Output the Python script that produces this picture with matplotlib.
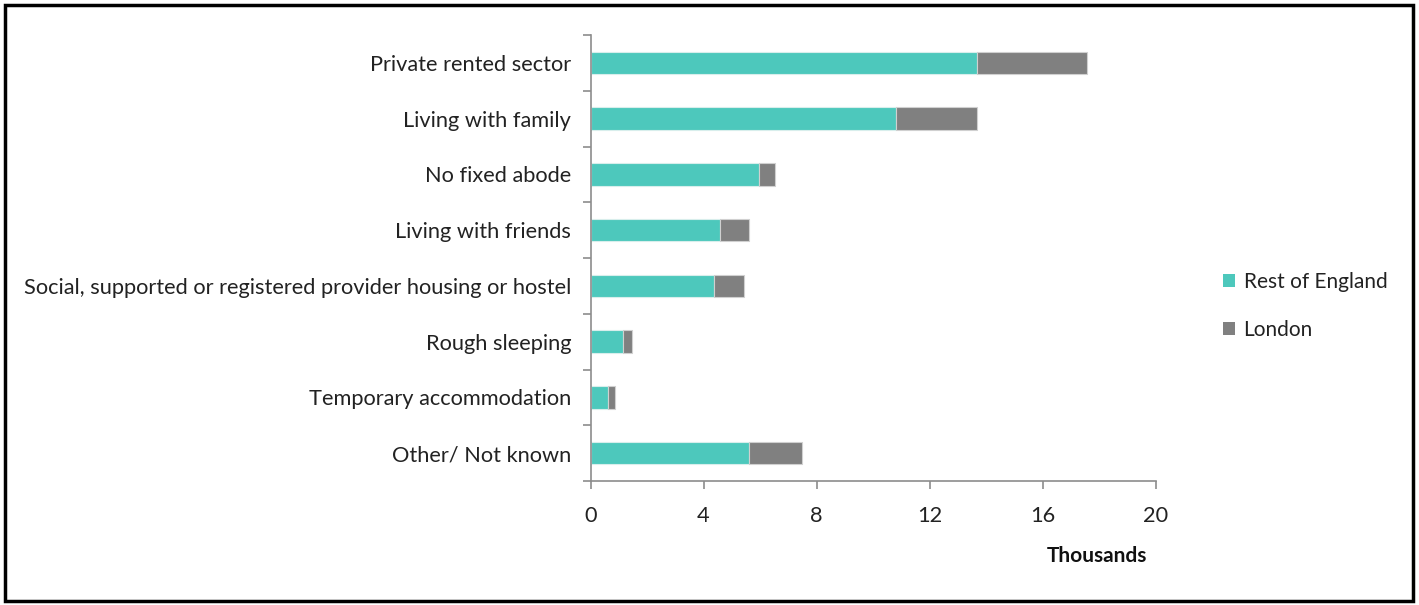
import matplotlib
matplotlib.use("Agg")
import matplotlib.pyplot as plt
from matplotlib.patches import Rectangle, Patch

categories = [
    "Private rented sector",
    "Living with family",
    "No fixed abode",
    "Living with friends",
    "Social, supported or registered provider housing or hostel",
    "Rough sleeping",
    "Temporary accommodation",
    "Other/ Not known",
]
rest_of_england = [13.69, 10.80, 5.95, 4.60, 4.38, 1.14, 0.61, 5.62]
london = [3.90, 2.89, 0.58, 1.02, 1.04, 0.34, 0.27, 1.87]
x_ticks = [0, 4, 8, 12, 16, 20]

teal = "#4DC8BC"
grey = "#808080"
axis_grey = "#8C8C8C"
fs = 15.7

plt.rcParams["font.family"] = ["Lato", "DejaVu Sans"]

fig = plt.figure(figsize=(14.19, 6.05), dpi=100)
ax = fig.add_axes([590.5 / 1419, 1 - 481 / 605, 565 / 1419, 446 / 605])

y = list(range(len(categories)))
ax.barh(y, rest_of_england, height=0.4, color=teal, edgecolor="#D8EEEC", linewidth=0.8,
        label="Rest of England")
ax.barh(y, london, left=rest_of_england, height=0.4, color=grey, edgecolor="#D0D0D0",
        linewidth=0.8, label="London")

ax.set_ylim(len(categories) - 0.5, -0.5)
ax.set_xlim(0, 20)
ax.set_xticks(x_ticks)
ax.set_xticklabels([str(v) for v in x_ticks], fontsize=fs, color="#222222")
ax.set_yticks(y)
ax.set_yticklabels(categories, fontsize=fs, color="#222222")
ax.set_yticks([i + 0.5 for i in range(-1, len(categories))], minor=True)

for side in ("top", "right"):
    ax.spines[side].set_visible(False)
for side in ("left", "bottom"):
    ax.spines[side].set_color(axis_grey)
    ax.spines[side].set_linewidth(1.2)

ax.tick_params(axis="y", which="major", length=0, pad=14)
ax.tick_params(axis="y", which="minor", length=6, color=axis_grey, width=1.2, direction="out")
ax.tick_params(axis="x", length=6, color=axis_grey, width=1.2, direction="out", pad=12)

fig.text(1097 / 1419, 1 - 556 / 605, "Thousands", fontsize=15, fontweight="bold",
         ha="center", va="center", color="#111111")

handles = [Patch(facecolor=teal, edgecolor="none"), Patch(facecolor=grey, edgecolor="none")]
fig.legend(handles, ["Rest of England", "London"], loc="center left",
           bbox_to_anchor=(1204 / 1419, 1 - 306 / 605), frameon=False, fontsize=15,
           handlelength=0.6, handleheight=0.6, handletextpad=0.4, labelspacing=1.35,
           labelcolor="#222222")

# outer frame around the whole figure
fig.patches.append(Rectangle((5 / 1419, 4 / 605), 1408 / 1419, 596 / 605,
                             transform=fig.transFigure, fill=False,
                             edgecolor="black", linewidth=2.5))

fig.savefig("out.png", dpi=100, facecolor="white")
